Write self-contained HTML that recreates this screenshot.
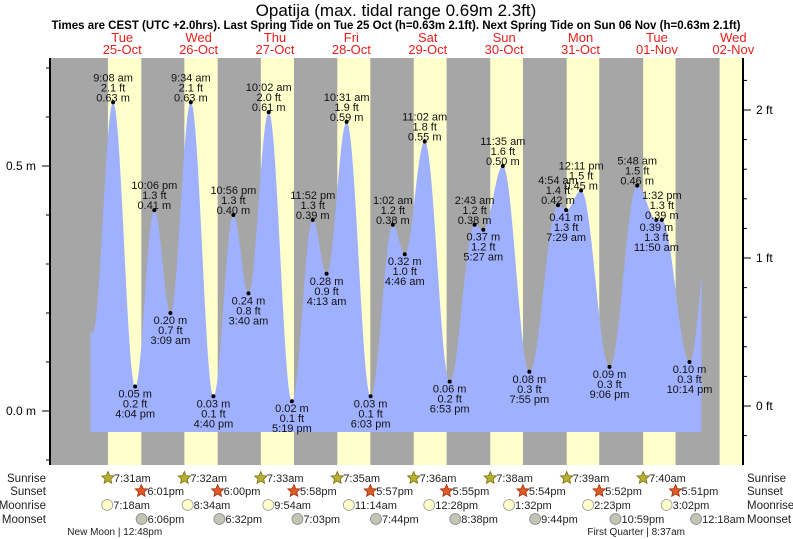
<!DOCTYPE html>
<html><head><meta charset="utf-8">
<style>
body{margin:0;background:#fff;}
svg{display:block;font-family:"Liberation Sans",sans-serif;}
</style></head>
<body>
<svg id="c" width="793" height="539" viewBox="0 0 793 539">
<text x="396" y="16" font-size="17" text-anchor="middle">Opatija (max. tidal range 0.69m 2.3ft)</text>
<text x="396" y="29" font-size="11.5" font-weight="bold" text-anchor="middle">Times are CEST (UTC +2.0hrs). Last Spring Tide on Tue 25 Oct (h=0.63m 2.1ft). Next Spring Tide on Sun 06 Nov (h=0.63m 2.1ft)</text>
<g id="bg"></g><g id="fill"></g><g id="axes"></g><g id="labels"></g><g id="days"></g><g id="astro"></g>
</svg>
<script>
const dayNames = ["Tue","Wed","Thu","Fri","Sat","Sun","Mon","Tue","Wed"];
const dayDates = ["25-Oct","26-Oct","27-Oct","28-Oct","29-Oct","30-Oct","31-Oct","01-Nov","02-Nov"];
// tide extremes: [day index, time, metres, type]
const tideDays = [0,0,0,1,1,1,1,2,2,2,2,3,3,3,4,4,4,4,5,5,5,5,6,6,6,6,7,7,7,7];
const tideTimes = ["9:08 am","4:04 pm","10:06 pm","3:09 am","9:34 am","4:40 pm","10:56 pm","3:40 am","10:02 am","5:19 pm","11:52 pm","4:13 am","10:31 am","6:03 pm","1:02 am","4:46 am","11:02 am","6:53 pm","2:43 am","5:27 am","11:35 am","7:55 pm","4:54 am","7:29 am","12:11 pm","9:06 pm","5:48 am","11:50 am","1:32 pm","10:14 pm"];
const tideHeights = [0.63,0.05,0.41,0.20,0.63,0.03,0.40,0.24,0.61,0.02,0.39,0.28,0.59,0.03,0.38,0.32,0.55,0.06,0.38,0.37,0.50,0.08,0.42,0.41,0.45,0.09,0.46,0.39,0.39,0.10];
const tideTypes = ["H","L","H","L","H","L","H","L","H","L","H","L","H","L","H","L","H","L","H","L","H","L","H","L","H","L","H","L","H","L"];
const startHeight = 0.16, endHeight = 0.46; // curve ends (unlabelled extremes outside window)
const sunrise = ["7:31am","7:32am","7:33am","7:35am","7:36am","7:38am","7:39am","7:40am","7:41am"];
const sunset = ["6:01pm","6:00pm","5:58pm","5:57pm","5:55pm","5:54pm","5:52pm","5:51pm","5:50pm"];
const moonrise = ["7:18am","8:34am","9:54am","11:14am","12:28pm","1:32pm","2:23pm","3:02pm"];
const moonsetDays = [0,1,2,3,4,5,6,8];
const moonset = ["6:06pm","6:32pm","7:03pm","7:44pm","8:38pm","9:44pm","10:59pm","12:18am"];
const phases = [[0,"12:48pm","New Moon"],[7,"8:37am","First Quarter"]];

const NS="http://www.w3.org/2000/svg";
const L=50,R=743,T=58,B=465,PXH=3.183,X0=84;
const x=t=>X0+t*PXH;
const y=m=>411-m*490;
const yft=f=>406-f*148;
function hrs(s){const m=s.match(/(\d+):(\d+)\s*(am|pm)/);let h=+m[1]%12;if(m[3]=="pm")h+=12;return h+ +m[2]/60;}
function el(tag,attrs,parent,txt){const e=document.createElementNS(NS,tag);for(const k in attrs)e.setAttribute(k,attrs[k]);if(txt!=null)e.textContent=txt;parent.appendChild(e);return e;}
const bg=document.getElementById('bg'),fillG=document.getElementById('fill'),ax=document.getElementById('axes'),lab=document.getElementById('labels'),days=document.getElementById('days'),astro=document.getElementById('astro');

let r=el('rect',{x:L,y:T,width:R-L,height:B-T,fill:'#a6a6a6'},bg);


for(let d=0;d<9;d++){
  const a=Math.max(L,x(d*24+hrs(sunrise[d]))),b=Math.min(R,x(d*24+hrs(sunset[d])));
  if(b>a){const e=el('rect',{x:a,y:T,width:b-a,height:B-T,fill:'#ffffcc'},bg);
  
  }
  const cx=x(d*24+12);
  const t1=el('text',{x:cx,y:42,'font-size':13,fill:'#e8201a','text-anchor':'middle'},days,dayNames[d]);
  
  
  const t2=el('text',{x:cx,y:54,'font-size':13,fill:'#e8201a','text-anchor':'middle'},days,dayDates[d]);
  
  
}
// tide curve
const pts=tideTimes.map((s,i)=>[tideDays[i]*24+hrs(s),tideHeights[i]]);
const ext=[[pts[0][0]-6.4,startHeight],...pts,[pts[pts.length-1][0]+7.6,endHeight]];
const tStart=2,tEnd=194;
let d="M"+x(tStart)+","+432;
for(let t=tStart;t<=tEnd;t+=0.1){
  let i=0;while(i<ext.length-2&&ext[i+1][0]<t)i++;
  const [ta,ha]=ext[i],[tb,hb]=ext[i+1];
  const f=Math.min(1,Math.max(0,(t-ta)/(tb-ta)));
  const h=ha+(hb-ha)*(1-Math.cos(Math.PI*f))/2;
  d+=" L"+x(t).toFixed(2)+","+y(h).toFixed(2);
}
d+=" L"+x(tEnd)+",432 Z";
const p=el('path',{d:d,fill:'#9fb0ff'},fillG);


// labels
pts.forEach((q,i)=>{
  const cx=x(q[0]),cy=y(q[1]);
  const dot=el('circle',{cx:cx,cy:cy,r:2,fill:'#000'},lab);
  
  
  const ft=(q[1]/0.3048).toFixed(1)+" ft",m=q[1].toFixed(2)+" m";
  const lines=tideTypes[i]=="H"?[[tideTimes[i],-21],[ft,-11],[m,-1]]:[[m,11],[ft,21],[tideTimes[i],31]];
  lines.forEach(l=>{const t=el('text',{x:cx,y:cy+l[1],'font-size':11,'text-anchor':'middle',fill:'#111'},lab,l[0]);
  
  });
});
// axes
el('line',{x1:L,y1:T,x2:L,y2:B,stroke:'#000','stroke-width':2},ax);
el('line',{x1:R,y1:T,x2:R,y2:B,stroke:'#000','stroke-width':2},ax);
for(let v=-1;v<=7;v++){const yy=y(v/10);el('line',{x1:L-4,y1:yy,x2:L,y2:yy,stroke:'#000'},ax);}
[0,0.5].forEach(v=>{el('line',{x1:L-8,y1:y(v),x2:L,y2:y(v),stroke:'#000'},ax);
 const t=el('text',{x:36,y:y(v)+4,'font-size':12,'text-anchor':'end'},ax,v.toFixed(1)+" m");
 
 });
for(let f=-0.2;f<=2.3;f+=0.2){const yy=yft(f);if(yy>T&&yy<B)el('line',{x1:R,y1:yy,x2:R+4,y2:yy,stroke:'#000'},ax);}
[0,1,2].forEach(f=>{el('line',{x1:R,y1:yft(f),x2:R+8,y2:yft(f),stroke:'#000'},ax);
 const t=el('text',{x:756,y:yft(f)+4,'font-size':12},ax,f+" ft");
 
 });
// astro rows
const rows=[["Sunrise",478],["Sunset",491],["Moonrise",505],["Moonset",519]];
rows.forEach(rw=>{
 const a=el('text',{x:46,y:rw[1]+4,'font-size':11.5,'text-anchor':'end',fill:'#222'},astro,rw[0]);
 
 
 const b=el('text',{x:747,y:rw[1]+4,'font-size':11.5,fill:'#222'},astro,rw[0]);
 
 
});
function star(cx,cy,fill,stroke){let s="";for(let k=0;k<10;k++){const rr=k%2?3:6.5,a=-Math.PI/2+k*Math.PI/5;s+=(cx+rr*Math.cos(a)).toFixed(1)+","+(cy+rr*Math.sin(a)).toFixed(1)+" ";}
 return el('polygon',{points:s,fill:fill,stroke:stroke,'stroke-width':0.8},astro);}
function item(t,yy,txt,kind){
 const cx=x(t);let ic;
 if(kind=="sr")ic=star(cx,yy,'#b8b030','#776f10');
 else if(kind=="ss")ic=star(cx,yy,'#e05a28','#a03010');
 else if(kind=="mr")ic=el('circle',{cx:cx,cy:yy,r:5.5,fill:'#ffffcc',stroke:'#999','stroke-width':0.8},astro);
 else ic=el('circle',{cx:cx,cy:yy,r:5.5,fill:'#c4c4b4',stroke:'#888','stroke-width':0.8},astro);
 
 
 const tx=el('text',{x:cx+6,y:yy+4,'font-size':11,fill:'#222'},astro,txt);
 
 
}
for(let d=0;d<8;d++){item(d*24+hrs(sunrise[d]),478,sunrise[d],"sr");item(d*24+hrs(sunset[d]),491,sunset[d],"ss");item(d*24+hrs(moonrise[d]),505,moonrise[d],"mr");}
moonset.forEach((s,i)=>item(moonsetDays[i]*24+hrs(s),519,s,"ms"));
phases.forEach(ph=>{const t=el('text',{x:x(ph[0]*24+hrs(ph[1]))-10,y:535,'font-size':10,'text-anchor':'middle',fill:'#222'},astro,ph[2]+" | "+ph[1]);
 
 });
</script>
</body></html>
